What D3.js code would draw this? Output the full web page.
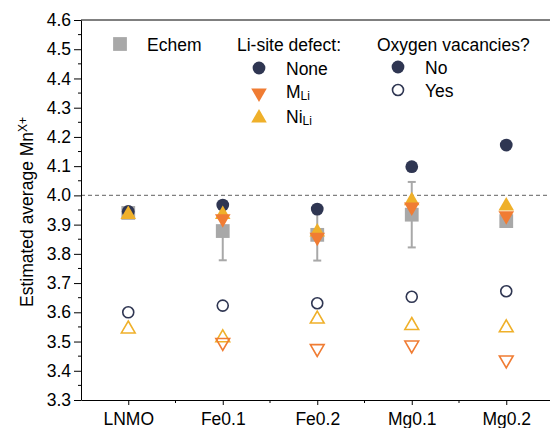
<!DOCTYPE html>
<html>
<head>
<meta charset="utf-8">
<script src="https://cdn.jsdelivr.net/npm/d3@7"></script>
<style>
  body { margin: 0; background: #fff; }
  svg { font-family: "Liberation Sans", Arial, sans-serif; }
</style>
</head>
<body>
<div class="chart"></div>
<script>
// data
const categories = ['LNMO', 'Fe0.1', 'Fe0.2', 'Mg0.1', 'Mg0.2'];
const echem = [3.94, 3.878, 3.865, 3.934, 3.912];
const echemErr = [0, 0.10, 0.088, 0.112, 0];
// no oxygen vacancies (filled)
const noneNoVac = [3.945, 3.967, 3.953, 4.098, 4.172];
const mLiNoVac = [null, 3.92, 3.857, 3.96, 3.93];
const niLiNoVac = [3.935, 3.935, 3.875, 3.982, 3.964];
// with oxygen vacancies (open)
const noneVac = [3.60, 3.623, 3.631, 3.653, 3.672];
const mLiVac = [null, 3.497, 3.476, 3.488, 3.437];
const niLiVac = [3.543, 3.513, 3.577, 3.555, 3.547];
const yTicks = [3.3, 3.4, 3.5, 3.6, 3.7, 3.8, 3.9, 4.0, 4.1, 4.2, 4.3, 4.4, 4.5, 4.6];

const colors = { navy: '#2f3652', orange: '#f07c33', yellow: '#efb02a', gray: '#a8a8a8' };
const fontSize = '17.5px';
const subSize = '12px';

const width = 550, height = 428;
const margin = { top: 20, left: 81, bottom: 28 };

const xScale = d3.scaleLinear().domain([0.5, 5.5]).range([margin.left, 553.5]);
const yScale = d3.scaleLinear().domain([3.3, 4.6]).range([height - margin.bottom, margin.top]);

const svg = d3.select('.chart').append('svg')
    .attr('width', width)
    .attr('height', height);

// dashed reference line at 4.0
svg.append('line')
    .attr('x1', margin.left).attr('x2', width)
    .attr('y1', yScale(4.0)).attr('y2', yScale(4.0))
    .style('stroke', '#808080')
    .style('stroke-width', 1.2)
    .style('stroke-dasharray', '4,3');

// axes
const yAxis = d3.axisLeft(yScale)
    .tickValues(yTicks)
    .tickFormat(d3.format('.1f'))
    .tickSizeInner(7)
    .tickSizeOuter(0)
    .tickPadding(3);
const yAxisDraw = svg.append('g')
    .attr('transform', `translate(${margin.left},0)`)
    .call(yAxis);
yAxisDraw.selectAll('text').style('font-size', fontSize).style('fill', '#000');

// minor y ticks
svg.append('g').selectAll('line')
    .data(yTicks.slice(0, -1).map(d => d + 0.05))
    .enter().append('line')
    .attr('x1', margin.left - 3).attr('x2', margin.left)
    .attr('y1', d => yScale(d)).attr('y2', d => yScale(d))
    .style('stroke', '#000');

const xAxis = d3.axisBottom(xScale)
    .tickValues([1, 2, 3, 4, 5])
    .tickFormat((d, i) => categories[i])
    .tickSizeInner(5)
    .tickSizeOuter(0)
    .tickPadding(8);
const xAxisDraw = svg.append('g')
    .attr('transform', `translate(0,${yScale(3.3)})`)
    .call(xAxis);
xAxisDraw.selectAll('text').style('font-size', fontSize).style('fill', '#000');

// minor x ticks
svg.append('g').selectAll('line')
    .data([1.5, 2.5, 3.5, 4.5, 5.5])
    .enter().append('line')
    .attr('x1', d => xScale(d)).attr('x2', d => xScale(d))
    .attr('y1', yScale(3.3)).attr('y2', yScale(3.3) + 3)
    .style('stroke', '#000');

// top frame line
svg.append('line')
    .attr('x1', margin.left).attr('x2', width)
    .attr('y1', yScale(4.6)).attr('y2', yScale(4.6))
    .style('stroke', '#000');

// y title
const yTitle = svg.append('text')
    .attr('transform', `translate(33,${(yScale(3.3) + yScale(4.6)) / 2 + 2}) rotate(-90)`)
    .style('text-anchor', 'middle')
    .style('font-size', fontSize);
yTitle.append('tspan').text('Estimated average Mn');
yTitle.append('tspan').attr('dy', '-0.5em').style('font-size', subSize).text('X+');

// marker helpers
const sym = (type, size) => d3.symbol().type(type).size(size)();
const shapes = {
    square: sym(d3.symbolSquare, 190),
    circle: sym(d3.symbolCircle, 128),
    tri: sym(d3.symbolTriangle, 105),
    circleOpen: sym(d3.symbolCircle, 95),
    triOpen: sym(d3.symbolTriangle, 82)
};

const drawSeries = (values, path, opts) => {
    svg.append('g').selectAll('path')
        .data(values.map((v, i) => ({ i, v })).filter(d => d.v !== null))
        .enter().append('path')
        .attr('d', path)
        .attr('transform', d => `translate(${xScale(d.i + 1)},${yScale(d.v)})${opts.down ? ' rotate(180)' : ''}`)
        .style('fill', opts.fill)
        .style('stroke', opts.stroke || 'none')
        .style('stroke-width', opts.sw || 0);
};

// echem squares + error bars
drawSeries(echem, shapes.square, { fill: colors.gray });
const errG = svg.append('g')
    .selectAll('g')
    .data(echem.map((v, i) => ({ i, v, e: echemErr[i] })).filter(d => d.e > 0))
    .enter().append('g')
    .style('stroke', colors.gray)
    .style('stroke-width', 2);
errG.append('line')
    .attr('x1', d => xScale(d.i + 1)).attr('x2', d => xScale(d.i + 1))
    .attr('y1', d => yScale(d.v - d.e)).attr('y2', d => yScale(d.v + d.e));
errG.append('line')
    .attr('x1', d => xScale(d.i + 1) - 4).attr('x2', d => xScale(d.i + 1) + 4)
    .attr('y1', d => yScale(d.v - d.e)).attr('y2', d => yScale(d.v - d.e));
errG.append('line')
    .attr('x1', d => xScale(d.i + 1) - 4).attr('x2', d => xScale(d.i + 1) + 4)
    .attr('y1', d => yScale(d.v + d.e)).attr('y2', d => yScale(d.v + d.e));

// filled markers
drawSeries(noneNoVac, shapes.circle, { fill: colors.navy });
drawSeries(niLiNoVac, shapes.tri, { fill: colors.yellow });
drawSeries(mLiNoVac, shapes.tri, { fill: colors.orange, down: true });

// open markers
drawSeries(noneVac, shapes.circleOpen, { fill: 'none', stroke: colors.navy, sw: 1.6 });
drawSeries(niLiVac, shapes.triOpen, { fill: 'none', stroke: colors.yellow, sw: 1.6 });
drawSeries(mLiVac, shapes.triOpen, { fill: 'none', stroke: colors.orange, sw: 1.6, down: true });

// legend
const legend = svg.append('g').style('font-size', fontSize);
const legendText = (x, y, main, sub) => {
    const t = legend.append('text').attr('x', x).attr('y', y).style('dominant-baseline', 'central').text(main);
    if (sub) t.append('tspan').attr('dy', '0.35em').style('font-size', subSize).text(sub);
};
const legendMark = (x, y, path, opts) => {
    legend.append('path')
        .attr('d', path)
        .attr('transform', `translate(${x},${y})${opts.down ? ' rotate(180)' : ''}`)
        .style('fill', opts.fill)
        .style('stroke', opts.stroke || 'none')
        .style('stroke-width', opts.sw || 0);
};

legendMark(120, 44, shapes.square, { fill: colors.gray });
legendText(147, 45, 'Echem');
legendText(237, 45, 'Li-site defect:');
legendMark(259, 68, shapes.circle, { fill: colors.navy });
legendText(286, 69, 'None');
legendMark(259, 93, shapes.tri, { fill: colors.orange, down: true });
legendText(286, 92, 'M', 'Li');
legendMark(259, 118, shapes.tri, { fill: colors.yellow });
legendText(286, 117, 'Ni', 'Li');
legendText(377, 45, 'Oxygen vacancies?');
legendMark(398, 67, shapes.circle, { fill: colors.navy });
legendText(425, 68, 'No');
legendMark(398, 90, shapes.circleOpen, { fill: 'none', stroke: colors.navy, sw: 1.6 });
legendText(425, 91, 'Yes');
</script>
</body>
</html>
